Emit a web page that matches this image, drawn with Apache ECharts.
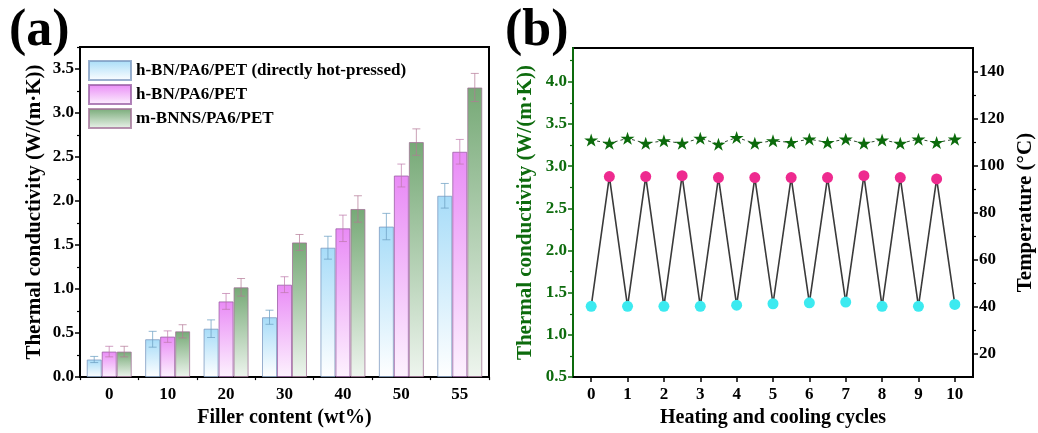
<!DOCTYPE html>
<html>
<head>
<meta charset="utf-8">
<script src="https://cdn.jsdelivr.net/npm/echarts@6/dist/echarts.min.js"></script>
<style>
  html, body { margin: 0; padding: 0; background: #fff; }
  #chart { width: 1038px; height: 433px; }
</style>
</head>
<body>
<div id="chart"></div>
<script>
// ---- (a) thermal conductivity vs filler content ----
const fillerContent = ['0', '10', '20', '30', '40', '50', '55'];
const kDirect    = [0.20, 0.43, 0.55, 0.68, 1.47, 1.71, 2.06];
const kDirectErr = [0.035, 0.09, 0.10, 0.08, 0.13, 0.15, 0.14];
const kHBN       = [0.29, 0.46, 0.86, 1.05, 1.69, 2.29, 2.56];
const kHBNErr    = [0.06, 0.065, 0.09, 0.09, 0.15, 0.13, 0.14];
const kBNNS      = [0.29, 0.52, 1.02, 1.53, 1.91, 2.67, 3.29];
const kBNNSErr   = [0.06, 0.075, 0.10, 0.09, 0.15, 0.15, 0.16];
const seriesNames = ['h-BN/PA6/PET (directly hot-pressed)', 'h-BN/PA6/PET', 'm-BNNS/PA6/PET'];
const kTicksA = [0, 0.5, 1.0, 1.5, 2.0, 2.5, 3.0, 3.5];

// ---- (b) heating and cooling cycles ----
const cycleTicks = [0, 1, 2, 3, 4, 5, 6, 7, 8, 9, 10];
const cyclePoints = [0, 0.5, 1, 1.5, 2, 2.5, 3, 3.5, 4, 4.5, 5, 5.5, 6, 6.5, 7, 7.5, 8, 8.5, 9, 9.5, 10];
const kCycle = [3.31, 3.27, 3.33, 3.27, 3.30, 3.27, 3.33, 3.26, 3.34, 3.27, 3.30,
                3.28, 3.32, 3.28, 3.32, 3.27, 3.31, 3.27, 3.32, 3.28, 3.32];
const cooledTemp = [40.1, 40.1, 40.1, 40.1, 40.6, 41.2, 41.6, 41.9, 40.1, 40.1, 40.9];
const heatedTemp = [95.3, 95.3, 95.7, 94.9, 94.9, 94.9, 94.9, 95.7, 94.9, 94.3];
const kTicksB = [0.5, 1.0, 1.5, 2.0, 2.5, 3.0, 3.5, 4.0];
const tempTicks = [20, 40, 60, 80, 100, 120, 140];

const FONT = 'Liberation Serif';
const GREEN = '#0d6b0d';

function grad(top, bottom) {
  return new echarts.graphic.LinearGradient(0, 0, 0, 1, [
    { offset: 0, color: top }, { offset: 1, color: bottom }
  ]);
}
function midpoints(arr, extraTop) {
  const out = [];
  for (let i = 0; i < arr.length - 1; i++) out.push((arr[i] + arr[i + 1]) / 2);
  if (extraTop !== undefined) out.push(extraTop);
  return out;
}

const barStyles = [
  { fill: grad('#a7dcf8', '#ffffff'), border: 'rgba(120,150,190,0.75)', err: 'rgba(110,160,195,0.75)' },
  { fill: grad('#e98bf6', '#fdf2fe'), border: 'rgba(150,90,160,0.75)', err: 'rgba(190,120,170,0.7)' },
  { fill: grad('#76a976', '#eef5ee'), border: 'rgba(160,110,150,0.75)', err: 'rgba(180,120,150,0.7)' }
];
const barValues = [kDirect, kHBN, kBNNS];
const barErrors = [kDirectErr, kHBNErr, kBNNSErr];
const BAR_GAP_FRAC = 0.23;

const series = [];
barValues.forEach((vals, s) => {
  series.push({
    name: seriesNames[s], type: 'bar', xAxisIndex: 0, yAxisIndex: 0,
    barGap: '0%', barCategoryGap: (BAR_GAP_FRAC * 100) + '%',
    data: vals,
    itemStyle: { color: barStyles[s].fill, borderColor: barStyles[s].border, borderWidth: 1 },
    emphasis: { disabled: true }, z: 2
  });
});
// error bars, one custom series per bar series
barValues.forEach((vals, s) => {
  series.push({
    type: 'custom', xAxisIndex: 0, yAxisIndex: 0, z: 3, silent: true,
    data: vals.map((v, i) => [i, v - barErrors[s][i], v + barErrors[s][i]]),
    renderItem: function (params, api) {
      const band = api.size([1, 0])[0];
      const barW = band * (1 - BAR_GAP_FRAC) / 3;
      const off = (s - 1) * barW;
      const lo = api.coord([api.value(0), api.value(1)]);
      const hi = api.coord([api.value(0), api.value(2)]);
      const x = lo[0] + off, cap = 4;
      const st = { stroke: barStyles[s].err, lineWidth: 1 };
      return { type: 'group', children: [
        { type: 'line', shape: { x1: x, y1: lo[1], x2: x, y2: hi[1] }, style: st },
        { type: 'line', shape: { x1: x - cap, y1: lo[1], x2: x + cap, y2: lo[1] }, style: st },
        { type: 'line', shape: { x1: x - cap, y1: hi[1], x2: x + cap, y2: hi[1] }, style: st }
      ]};
    }
  });
});

// (b) temperature trace: cooled (integer cycles) and heated (half cycles), interleaved
const tempTrace = [];
cooledTemp.forEach((t, i) => {
  tempTrace.push([cycleTicks[i], t]);
  if (i < heatedTemp.length) tempTrace.push([cycleTicks[i] + 0.5, heatedTemp[i]]);
});
series.push({
  type: 'line', xAxisIndex: 2, yAxisIndex: 4, data: tempTrace, showSymbol: false,
  lineStyle: { color: '#3a3a3a', width: 1.6 }, silent: true, z: 2
});
series.push({
  type: 'scatter', xAxisIndex: 2, yAxisIndex: 4, symbolSize: 11,
  data: cooledTemp.map((t, i) => [cycleTicks[i], t]),
  itemStyle: { color: '#3ceaf0', opacity: 1 }, silent: true, z: 3
});
series.push({
  type: 'scatter', xAxisIndex: 2, yAxisIndex: 4, symbolSize: 11,
  data: heatedTemp.map((t, i) => [cycleTicks[i] + 0.5, t]),
  itemStyle: { color: '#ee2a8f', opacity: 1 }, silent: true, z: 3
});
const STAR = 'path://M50,0 L61.2,34.5 L97.6,34.5 L68.2,55.9 L79.4,90.5 L50,69.1 L20.6,90.5 L31.8,55.9 L2.4,34.5 L38.8,34.5 Z';
series.push({
  type: 'line', xAxisIndex: 2, yAxisIndex: 2,
  data: cyclePoints.map((c, i) => [c, kCycle[i]]),
  symbol: STAR, symbolSize: [14, 13], showAllSymbol: true,
  itemStyle: { color: '#0b6a0b' },
  lineStyle: { color: '#2f4a2f', width: 1, type: [3, 3] }, silent: true, z: 3
});

const labelStyle = { fontFamily: FONT, fontWeight: 'bold', fontSize: 17, color: '#000' };
const nameStyle = { fontFamily: FONT, fontWeight: 'bold', fontSize: 20, color: '#000' };
const yNameStyle = { fontFamily: FONT, fontWeight: 'bold', fontSize: 21, color: '#000' };
const blackLine = { show: true, onZero: false, lineStyle: { color: '#000', width: 2 } };
const noLine = { show: false, onZero: false };

const option = {
  animation: false,
  backgroundColor: '#fff',
  grid: [
    { left: 80, right: 549, top: 47, bottom: 48, show: true, borderColor: '#000', borderWidth: 2 },
    { left: 573, right: 65, top: 48, bottom: 50, show: true, borderColor: '#000', borderWidth: 2 }
  ],
  legend: {
    data: seriesNames.map(n => ({ name: n, icon: 'rect' })),
    orient: 'vertical', left: 88, top: 60, padding: 0,
    itemWidth: 42, itemHeight: 19, itemGap: 3, selectedMode: false,
    textStyle: { fontFamily: FONT, fontWeight: 'bold', fontSize: 17, color: '#000' }
  },
  xAxis: [
    { type: 'category', gridIndex: 0, data: fillerContent,
      axisLine: blackLine,
      axisTick: { alignWithLabel: true, length: 5, lineStyle: { color: '#000', width: 1.5 } },
      axisLabel: Object.assign({ margin: 9 }, labelStyle),
      name: 'Filler content (wt%)', nameLocation: 'middle', nameGap: 28, nameTextStyle: nameStyle },
    { type: 'value', gridIndex: 0, min: -0.5, max: 6.5, position: 'bottom',
      axisLine: noLine, axisLabel: { show: false }, splitLine: { show: false },
      axisTick: { show: true, length: 3, lineStyle: { color: '#000', width: 1.2 },
                  customValues: midpoints([-1, 0, 1, 2, 3, 4, 5, 6, 7]) } },
    { type: 'value', gridIndex: 1, min: -0.5, max: 10.5,
      axisLine: blackLine, splitLine: { show: false },
      axisTick: { length: 5, lineStyle: { color: '#000', width: 1.5 }, customValues: cycleTicks },
      axisLabel: Object.assign({ margin: 9, customValues: cycleTicks }, labelStyle),
      name: 'Heating and cooling cycles', nameLocation: 'middle', nameGap: 28, nameTextStyle: nameStyle }
  ],
  yAxis: [
    { type: 'value', gridIndex: 0, min: 0, max: 3.75, splitLine: { show: false },
      axisLine: blackLine,
      axisTick: { length: 5, lineStyle: { color: '#000', width: 1.5 }, customValues: kTicksA },
      axisLabel: Object.assign({ margin: 6, customValues: kTicksA, formatter: v => v.toFixed(1) }, labelStyle),
      name: 'Thermal conductivity (W/(m\u00b7K))', nameLocation: 'middle', nameGap: 35, nameTextStyle: yNameStyle },
    { type: 'value', gridIndex: 0, min: 0, max: 3.75, position: 'left',
      axisLine: noLine, axisLabel: { show: false }, splitLine: { show: false },
      axisTick: { show: true, length: 3, lineStyle: { color: '#000', width: 1.2 },
                  customValues: midpoints(kTicksA, 3.75) } },
    { type: 'value', gridIndex: 1, min: 0.5, max: 4.4, position: 'left', splitLine: { show: false },
      axisLine: { show: true, onZero: false, lineStyle: { color: GREEN, width: 2 } },
      axisTick: { length: 5, lineStyle: { color: GREEN, width: 1.5 }, customValues: kTicksB },
      axisLabel: Object.assign({}, labelStyle, { color: GREEN, margin: 6, customValues: kTicksB, formatter: v => v.toFixed(1) }),
      name: 'Thermal conductivity (W/(m\u00b7K))', nameLocation: 'middle', nameGap: 37,
      nameTextStyle: Object.assign({}, yNameStyle, { color: GREEN }) },
    { type: 'value', gridIndex: 1, min: 0.5, max: 4.4, position: 'left',
      axisLine: noLine, axisLabel: { show: false }, splitLine: { show: false },
      axisTick: { show: true, length: 3, lineStyle: { color: GREEN, width: 1.2 },
                  customValues: midpoints(kTicksB, 4.25) } },
    { type: 'value', gridIndex: 1, min: 10, max: 150, position: 'right', splitLine: { show: false },
      axisLine: blackLine,
      axisTick: { length: 5, lineStyle: { color: '#000', width: 1.5 }, customValues: tempTicks },
      axisLabel: Object.assign({ margin: 6, customValues: tempTicks }, labelStyle),
      name: 'Temperature (\u00b0C)', nameLocation: 'middle', nameGap: 42, nameTextStyle: yNameStyle },
    { type: 'value', gridIndex: 1, min: 10, max: 150, position: 'right',
      axisLine: noLine, axisLabel: { show: false }, splitLine: { show: false },
      axisTick: { show: true, length: 3, lineStyle: { color: '#000', width: 1.2 },
                  customValues: midpoints(tempTicks) } }
  ],
  graphic: [
    { type: 'text', left: 9, top: 6, style: { text: '(a)', fontFamily: FONT, fontWeight: 'bold', fontSize: 52, fill: '#000' } },
    { type: 'text', left: 505, top: 6, style: { text: '(b)', fontFamily: FONT, fontWeight: 'bold', fontSize: 52, fill: '#000' } }
  ],
  series: series
};

const chart = echarts.init(document.getElementById('chart'), null, { renderer: 'canvas' });
chart.setOption(option);
</script>
</body>
</html>
